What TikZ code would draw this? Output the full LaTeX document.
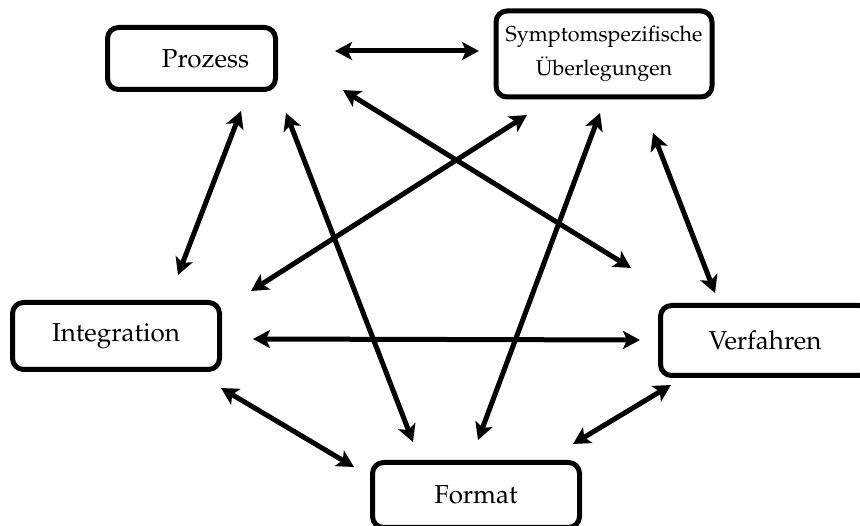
\documentclass[tikz,border=0pt]{standalone}
\usepackage[T1]{fontenc}
\usepackage{mathpazo}
\usetikzlibrary{arrows.meta}

\tikzset{
  box/.style={draw=black, line width=5pt, rounded corners=11pt, fill=white,
    align=center, inner sep=0pt, font=\fontsize{26}{33}\selectfont},
  link/.style={line width=5pt,
    {Stealth[length=17pt,width=18pt,inset=4pt]}-{Stealth[length=17pt,width=18pt,inset=4pt]}}
}

\begin{document}
\begin{tikzpicture}[x=1pt,y=-1pt]
\useasboundingbox (0,0) rectangle (860,526);

% boxes (the Prozess label sits a little right of centre)
\node[box, minimum width=168pt, minimum height=62pt] (proz) at (191.5,58.5) {\hspace*{28pt}Prozess};
\node[box, minimum width=216pt, minimum height=86pt, font=\fontsize{21.5}{34}\selectfont]
  (symp) at (604,54) {Symptomspezifische\\\"Uberlegungen};
\node[box, minimum width=207pt, minimum height=67pt] (integ) at (116,336) {Integration};
\node[box, minimum width=209pt, minimum height=70pt] (verf) at (765,340.5) {Verfahren};
\node[box, minimum width=207pt, minimum height=65pt] (form) at (476,495) {Format};

% arrow end points
\coordinate (a1) at (335,51);   \coordinate (b1) at (479,51);
\coordinate (a2) at (241,111);  \coordinate (b2) at (178,275);
\coordinate (a3) at (286,113);  \coordinate (b3) at (413,442);
\coordinate (a4) at (343,90);   \coordinate (b4) at (631,268);
\coordinate (a5) at (527,115);  \coordinate (b5) at (251,291);
\coordinate (a6) at (600,113);  \coordinate (b6) at (478,440);
\coordinate (a7) at (653,133);  \coordinate (b7) at (715,293);
\coordinate (a8) at (253,339);  \coordinate (b8) at (640,340);
\coordinate (a9) at (221,388);  \coordinate (b9) at (354,467);
\coordinate (a10) at (573,444); \coordinate (b10) at (671,385);

% connections
\draw[link] (a1) -- (b1);
\draw[link] (a2) -- (b2);
\draw[link] (a3) -- (b3);
\draw[link] (a4) -- (b4);
\draw[link] (a5) -- (b5);
\draw[link] (a6) -- (b6);
\draw[link] (a7) -- (b7);
\draw[link] (a8) -- (b8);
\draw[link] (a9) -- (b9);
\draw[link] (a10) -- (b10);
\end{tikzpicture}
\end{document}
